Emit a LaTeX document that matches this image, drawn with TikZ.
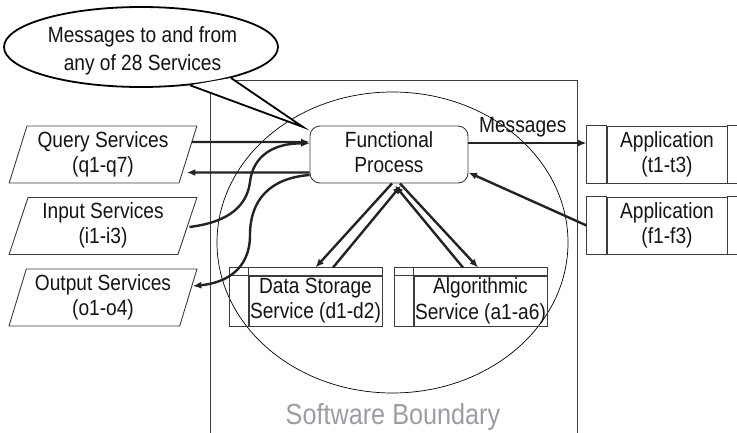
\documentclass[tikz,border=0pt]{standalone}
\usepackage{fontspec}
\setmainfont{Liberation Sans}[FakeStretch=0.87]
\usetikzlibrary{shapes.geometric,arrows.meta}
\definecolor{linec}{RGB}{60,60,60}
\definecolor{arrc}{RGB}{35,35,35}
\definecolor{txtc}{RGB}{20,20,20}
\definecolor{boundc}{RGB}{155,157,164}
\newcommand\lbl{\fontsize{22}{25}\selectfont}
\newcommand\ta{\rule[-5pt]{0pt}{20pt}}
\newcommand\tb{\rule[-5pt]{0pt}{5pt}}
\newcommand\tc{\rule[-5pt]{0pt}{18.5pt}}
\tikzset{
  box/.style={draw=linec, line width=0.9pt},
  para/.style={trapezium, trapezium left angle=72, trapezium right angle=108,
    trapezium stretches=true, draw=linec, line width=0.9pt,
    minimum width=188pt, minimum height=57pt, inner sep=1pt,
    align=center, font=\lbl, text=txtc},
  proc/.style={box, minimum height=57pt, inner sep=0pt, align=center, font=\lbl, text=txtc},
  store/.style={box, minimum width=133pt, minimum height=50pt, inner sep=0pt, align=center,
    font=\fontsize{22}{25.5}\selectfont, text=txtc},
  arr/.style={line width=2.4pt, draw=arrc, -{Latex[length=8.5pt,width=7pt]}},
  bline/.style={draw=linec, line width=1pt},
}
\begin{document}
\begin{tikzpicture}[x=1pt,y=-1pt]
\useasboundingbox (0,0) rectangle (737,433);
\clip (0,0) rectangle (737,433);

% software boundary
\draw[bline] (210,440) -- (210,81) -- (577,81) -- (577,440);
\node[draw=black, ellipse, line width=0.7pt, minimum width=351pt, minimum height=301pt, inner sep=0pt] (sys) at (392.5,242.5) {};
\node[font=\fontsize{29}{31}\selectfont, text=boundc] (sbl) at (393,417) {Software Boundary};

% left services
\node[para] (q) at (103,154.5) {\ta Query Services\\(q1-q7)\tb};
\node[para] (i) at (103,226) {\ta Input Services\\(i1-i3)\tb};
\node[para] (o) at (103,297.5) {\ta Output Services\\(o1-o4)\tb};

% functional process
\node[box, rounded corners=10pt, minimum width=158pt, minimum height=57pt, inner sep=0pt,
      align=center, font=\lbl, text=txtc] (fp) at (389,154.5) {\ta Functional\\Process\tb};

% applications
\node[proc, minimum width=120pt] (at) at (667,154.5) {\ta Application\\(t1-t3)\tb};
\draw[box] ([xshift=-20pt]at.north west) rectangle (at.south west);
\draw[box] (at.north east) rectangle ([xshift=20pt]at.south east);
\node[proc, minimum width=120pt] (af) at (667,225.5) {\ta Application\\(f1-f3)\tb};
\draw[box] ([xshift=-20pt]af.north west) rectangle (af.south west);
\draw[box] (af.north east) rectangle ([xshift=20pt]af.south east);

% storage and algorithmic services
\node[store] (ds) at (315.5,301) {\tc Data Storage\\Service (d1-d2)\tb};
\draw[box] ([xshift=-19pt,yshift=8pt]ds.north west) rectangle (ds.south west);
\draw[box] ([xshift=-19pt,yshift=8pt]ds.north west) rectangle (ds.north east);
\node[store] (alg) at (480.5,301) {\tc Algorithmic\\Service (a1-a6)\tb};
\draw[box] ([xshift=-19pt,yshift=8pt]alg.north west) rectangle (alg.south west);
\draw[box] ([xshift=-19pt,yshift=8pt]alg.north west) rectangle (alg.north east);

% connectors left
\draw[arr] ([xshift=3.5pt,yshift=12.5pt]q.east) -- ([yshift=12.5pt]fp.west);
\draw[arr] ([yshift=-18pt]fp.west) -- ([xshift=-1.5pt,yshift=-18pt]q.east);
\draw[arr] ([xshift=1.5pt,yshift=-1pt]i.east) .. controls (230,222) and (247,205) .. (250,182)
      .. controls (253,155) and (275,143) .. ([yshift=11pt]fp.west);
\draw[arr] ([yshift=-20.5pt]fp.west) .. controls (270,178) and (250,200) .. (250,235)
      .. controls (250,270) and (225,283) .. ([xshift=4pt,yshift=11.5pt]o.east);

% connectors below
\draw[arr] ([xshift=3pt]fp.south) -- ([yshift=8pt]ds.north);
\draw[arr] ([xshift=17.5pt,yshift=8pt]ds.north) -- ([xshift=12pt,yshift=-2pt]fp.south);
\draw[arr] ([xshift=11pt]fp.south) -- ([xshift=-2.5pt,yshift=8pt]alg.north);
\draw[arr] ([xshift=-17.5pt,yshift=8pt]alg.north) -- ([xshift=6pt,yshift=-2pt]fp.south);

% connectors right
\draw[arr] ([yshift=11.5pt]fp.east) -- node[above, pos=0.46, font=\lbl, text=txtc, inner sep=4.4pt] (msg) {Messages} ([xshift=-20pt,yshift=11.5pt]at.west);
\draw[arr] ([xshift=-20pt]af.west) -- ([yshift=-18pt]fp.east);

% speech bubble
\node[draw=black, ellipse, line width=1.8pt, fill=white, minimum width=274pt, minimum height=80pt, inner sep=0pt] (bub) at (141,47) {};
\node[align=center, font=\fontsize{22}{28}\selectfont, text=txtc] (bubt) at (142.5,51.2) {Messages to and from\\any of 28 Services};
\coordinate (tip) at (303,127);
\fill[white] (bub.-38) -- (tip) -- (bub.-19) -- cycle;
\draw[line width=1.8pt, line join=miter] (bub.-38) -- (tip) -- (bub.-19);
\end{tikzpicture}
\end{document}
